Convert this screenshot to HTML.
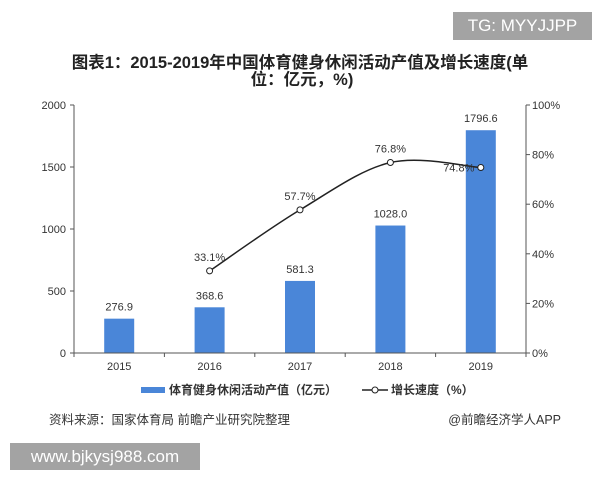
<!DOCTYPE html>
<html><head><meta charset="utf-8"><style>
body{margin:0;background:#fff;width:600px;height:480px;overflow:hidden;position:relative;font-family:"Liberation Sans","Noto Sans CJK SC",sans-serif}
.tg{position:absolute;left:453px;top:12px;width:139px;height:28px;background:#a3a3a3;color:#fff;font-size:17px;line-height:28px;text-align:center}
.ww{position:absolute;left:10px;top:443px;width:190px;height:27px;background:#a3a3a3;color:#fff;font-size:17px;line-height:27px;text-align:center}
</style></head><body>
<div class="tg">TG: MYYJJPP</div>
<svg width="600" height="480" style="position:absolute;left:0;top:0">
<text x="300" y="68" text-anchor="middle" font-size="16.5" font-weight="bold" fill="#222">图表1：2015-2019年中国体育健身休闲活动产值及增长速度(单</text>
<text x="302" y="85" text-anchor="middle" font-size="16.5" font-weight="bold" fill="#222">位：亿元，%)</text>
<g id="plot"></g>
<text x="49" y="424" font-size="12.5" fill="#333">资料来源：国家体育局 前瞻产业研究院整理</text>
<text x="561" y="424" text-anchor="end" font-size="12.5" fill="#333">@前瞻经济学人APP</text>
</svg>
<div class="ww">www.bjkysj988.com</div>
<script>
const categories=["2015","2016","2017","2018","2019"];
const values=[276.9,368.6,581.3,1028.0,1796.6];
const growth=[null,33.1,57.7,76.8,74.8];
const leftTicks=[0,500,1000,1500,2000];
const rightTicks=[0,20,40,60,80,100];
const NS="http://www.w3.org/2000/svg";
const g=document.getElementById("plot");
const L=74,R=526,T=105,B=353;
const band=(R-L)/categories.length;
const xc=i=>L+band*(i+0.5);
const yL=v=>B-v/2000*(B-T);
const yR=v=>B-v/100*(B-T);
function mk(t,a){const e=document.createElementNS(NS,t);for(const k in a)e.setAttribute(k,a[k]);g.appendChild(e);return e;}
categories.forEach((c,i)=>{
 const b=mk("rect",{x:xc(i)-15,y:yL(values[i]),width:30,height:B-yL(values[i]),fill:"#4a86d8"});
 
 
 const t=mk("text",{x:xc(i),y:yL(values[i])-8,"text-anchor":"middle","font-size":"11",fill:"#333"});t.textContent=values[i].toFixed(1);
 
 
 const xl=mk("text",{x:xc(i),y:B+17,"text-anchor":"middle","font-size":"11",fill:"#333"});xl.textContent=c;
 
 
});
let ax=mk("line",{x1:L,y1:B,x2:R,y2:B,stroke:"#555"});


for(let i=0;i<=categories.length;i++)mk("line",{x1:L+band*i,y1:B,x2:L+band*i,y2:B+4,stroke:"#555"});
let la=mk("line",{x1:L,y1:T,x2:L,y2:B,stroke:"#555"});


let ra=mk("line",{x1:R,y1:T,x2:R,y2:B,stroke:"#555"});


leftTicks.forEach(v=>{mk("line",{x1:L-4,y1:yL(v),x2:L,y2:yL(v),stroke:"#555"});
 const t=mk("text",{x:L-8,y:yL(v)+4,"text-anchor":"end","font-size":"11",fill:"#333"});t.textContent=v;
 
 });
rightTicks.forEach(v=>{mk("line",{x1:R,y1:yR(v),x2:R+4,y2:yR(v),stroke:"#555"});
 const t=mk("text",{x:R+6,y:yR(v)+4,"font-size":"11",fill:"#333"});t.textContent=v+"%";
 
 });
const pts=[];growth.forEach((v,i)=>{if(v!=null)pts.push([xc(i),yR(v),v]);});
let d="M"+pts[0][0]+","+pts[0][1];
for(let i=0;i<pts.length-1;i++){const p0=pts[i-1]||pts[i],p1=pts[i],p2=pts[i+1],p3=pts[i+2]||p2;
 d+=` C${p1[0]+(p2[0]-p0[0])/6},${p1[1]+(p2[1]-p0[1])/6} ${p2[0]-(p3[0]-p1[0])/6},${p2[1]-(p3[1]-p1[1])/6} ${p2[0]},${p2[1]}`;}
const ln=mk("path",{d:d,fill:"none",stroke:"#222","stroke-width":"1.5"});


pts.forEach((p,i)=>{const c=mk("circle",{cx:p[0],cy:p[1],r:3,fill:"#fff",stroke:"#222"});
 
 
 const t=mk("text",{x:p[0]-(i==pts.length-1?22:0),y:p[1]-(i==pts.length-1?-4:10),"text-anchor":"middle","font-size":"11",fill:"#333"});t.textContent=p[2].toFixed(1)+"%";
 
 });
let lr=mk("rect",{x:141,y:387,width:24,height:6,fill:"#4a86d8"});


let lt=mk("text",{x:169,y:394,"font-size":"12","font-weight":"bold",fill:"#333"});lt.textContent="体育健身休闲活动产值（亿元）";


mk("line",{x1:362,y1:390,x2:388,y2:390,stroke:"#222","stroke-width":"1.5"});
let lc=mk("circle",{cx:375,cy:390,r:3,fill:"#fff",stroke:"#222"});


let lt2=mk("text",{x:391,y:394,"font-size":"12","font-weight":"bold",fill:"#333"});lt2.textContent="增长速度（%）";


</script>
</body></html>
